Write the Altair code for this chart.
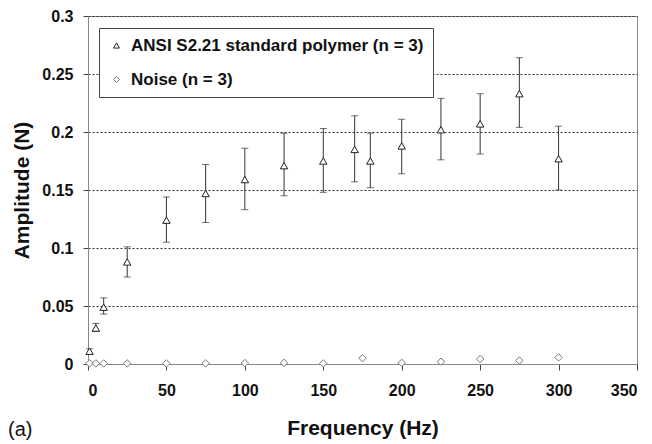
import altair as alt
import pandas as pd

FONT = "Liberation Sans"

ansi_label = "ANSI S2.21 standard polymer (n = 3)"
noise_label = "Noise (n = 3)"

ansi_freq = [1, 5, 10, 25, 50, 75, 100, 125, 150, 170, 180, 200, 225, 250, 275, 300]
ansi_mean = [0.011, 0.031, 0.049, 0.088, 0.124, 0.147, 0.159, 0.171, 0.175, 0.185,
             0.175, 0.188, 0.202, 0.207, 0.233, 0.177]
ansi_low = [0.009, 0.028, 0.043, 0.075, 0.105, 0.122, 0.133, 0.145, 0.148, 0.157,
            0.152, 0.164, 0.176, 0.181, 0.204, 0.150]
ansi_high = [0.013, 0.035, 0.057, 0.101, 0.144, 0.172, 0.186, 0.199, 0.203, 0.214,
             0.199, 0.211, 0.229, 0.233, 0.264, 0.205]

noise_freq = [1, 5, 10, 25, 50, 75, 100, 125, 150, 175, 200, 225, 250, 275, 300]
noise_mean = [0.0005, 0.0005, 0.0005, 0.0005, 0.0005, 0.0005, 0.0008, 0.001, 0.0005,
              0.005, 0.001, 0.002, 0.0043, 0.003, 0.0057]

y_ticks = [0, 0.05, 0.1, 0.15, 0.2, 0.25, 0.3]
x_ticks = [0, 50, 100, 150, 200, 250, 300, 350]

ansi_df = pd.DataFrame({"freq": ansi_freq, "amp": ansi_mean, "low": ansi_low,
                        "high": ansi_high, "series": ansi_label})
noise_df = pd.DataFrame({"freq": noise_freq, "amp": noise_mean, "series": noise_label})
points_df = pd.concat([ansi_df[["freq", "amp", "series"]], noise_df], ignore_index=True)

x_scale = alt.Scale(domain=[0, 350], nice=False, zero=True)
y_scale = alt.Scale(domain=[0, 0.3], nice=False)

x_axis = alt.Axis(values=x_ticks, title="Frequency (Hz)", grid=False,
                  labelFont=FONT, labelFontSize=16, labelFontWeight="bold", labelColor="#111",
                  titleFont=FONT, titleFontSize=21, titleFontWeight="bold", titleColor="#111",
                  domainColor="#888", tickColor="#444", tickSize=6, labelPadding=12,
                  titleY=64, titleBaseline="middle")
y_axis = alt.Axis(values=y_ticks, title="Amplitude (N)", format=".2~f",
                  labelFont=FONT, labelFontSize=16, labelFontWeight="bold", labelColor="#111",
                  titleFont=FONT, titleFontSize=21, titleFontWeight="bold", titleColor="#111",
                  domainColor="#888", tickColor="#444", tickSize=5, labelPadding=10,
                  grid=True, gridDash=[2, 2], gridColor="#333", gridWidth=1,
                  titleX=-66, titleBaseline="middle")

base_ansi = alt.Chart(ansi_df)

bars = base_ansi.mark_rule(color="#333", strokeWidth=1).encode(
    x=alt.X("freq:Q", scale=x_scale, axis=x_axis),
    y=alt.Y("low:Q", scale=y_scale, axis=y_axis),
    y2="high:Q",
)
cap_low = base_ansi.mark_tick(color="#333", orient="horizontal", size=7, thickness=1).encode(
    x=alt.X("freq:Q", scale=x_scale), y=alt.Y("low:Q", scale=y_scale))
cap_high = base_ansi.mark_tick(color="#333", orient="horizontal", size=7, thickness=1).encode(
    x=alt.X("freq:Q", scale=x_scale), y=alt.Y("high:Q", scale=y_scale))

points = alt.Chart(points_df).mark_point(filled=False, strokeWidth=1, size=55, fill="white", fillOpacity=1).encode(
    x=alt.X("freq:Q", scale=x_scale),
    y=alt.Y("amp:Q", scale=y_scale),
    shape=alt.Shape("series:N",
                    scale=alt.Scale(domain=[ansi_label, noise_label], range=["triangle-up", "diamond"]),
                    legend=alt.Legend(title=None)),
    stroke=alt.Stroke("series:N",
                      scale=alt.Scale(domain=[ansi_label, noise_label], range=["#222", "#777"]),
                      legend=alt.Legend(title=None)),
)

label_df = pd.DataFrame({"t": ["(a)"]})
panel_label = alt.Chart(label_df).mark_text(
    font=FONT, fontSize=20, align="left", baseline="alphabetic", color="#111"
).encode(text="t:N", x=alt.value(-80), y=alt.value(420))

chart = alt.layer(bars, cap_low, cap_high, points, panel_label).properties(
    width=549, height=348,
    autosize=alt.AutoSizeParams(type="none"),
    padding={"left": 88, "top": 16, "right": 15, "bottom": 80},
    background="white",
).configure_view(stroke="#888", strokeWidth=1).configure_legend(
    orient="none", legendX=11, legendY=12,
    strokeColor="#444", fillColor="white", padding=9, rowPadding=16,
    labelFont=FONT, labelFontSize=17, labelFontWeight="bold", labelColor="#111",
    labelLimit=500,
    symbolSize=35, symbolStrokeWidth=1, symbolFillColor="white", labelOffset=6,
)

chart.save("out.html", embed_options={"renderer": "svg", "actions": False})
